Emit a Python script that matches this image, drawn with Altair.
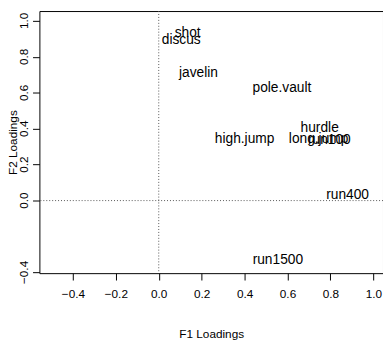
import altair as alt
import pandas as pd

labels = ["shot", "discus", "javelin", "pole.vault", "hurdle", "high.jump",
          "long.jump", "run100", "run400", "run1500"]
f1 = [0.135, 0.105, 0.185, 0.574, 0.75, 0.40, 0.745, 0.795, 0.88, 0.555]
f2 = [0.934, 0.894, 0.707, 0.625, 0.403, 0.343, 0.344, 0.337, 0.033, -0.332]
x_ticks = [-0.4, -0.2, 0.0, 0.2, 0.4, 0.6, 0.8, 1.0]
y_ticks = [-0.4, 0.0, 0.2, 0.4, 0.6, 0.8, 1.0]

df = pd.DataFrame({"label": labels, "f1": f1, "f2": f2})
ref = pd.DataFrame({"v": [0.0]})
ytick_df = pd.DataFrame({"v": y_ticks, "lab": [f"{v:.1f}".replace("-", "\u2212") for v in y_ticks]})

FONT = "Liberation Sans"
xs = alt.Scale(domain=[-0.556, 1.045], nice=False, zero=False)
ys = alt.Scale(domain=[-0.404, 1.055], nice=False, zero=False)

xaxis = alt.Axis(values=x_ticks, format=".1f", grid=False, domain=False,
                 tickSize=7, tickColor="black", labelColor="black",
                 labelFont=FONT, labelFontSize=12, labelPadding=9,
                 title="F1 Loadings", titleFont=FONT, titleFontSize=12,
                 titleFontWeight="normal", titleColor="black",
                 titleY=62, titleBaseline="middle")
yaxis = alt.Axis(values=y_ticks, grid=False, domain=False, labels=False,
                 tickSize=7, tickColor="black",
                 title="F2 Loadings", titleFont=FONT, titleFontSize=12,
                 titleFontWeight="normal", titleColor="black",
                 titleX=-27, titleAngle=270, titleBaseline="middle")

text = alt.Chart(df).mark_text(font=FONT, fontSize=14, color="black").encode(
    x=alt.X("f1:Q", scale=xs, axis=xaxis),
    y=alt.Y("f2:Q", scale=ys, axis=yaxis),
    text="label:N",
)
ylabels = alt.Chart(ytick_df).mark_text(
    font=FONT, fontSize=12, color="black", angle=270,
    align="center", baseline="middle").encode(
    x=alt.value(-16),
    y=alt.Y("v:Q", scale=ys),
    text="lab:N",
)
vline = alt.Chart(ref).mark_rule(color="#555555", strokeDash=[1, 2], strokeWidth=1).encode(
    x=alt.X("v:Q", scale=xs))
hline = alt.Chart(ref).mark_rule(color="#555555", strokeDash=[1, 2], strokeWidth=1).encode(
    y=alt.Y("v:Q", scale=ys))

chart = alt.layer(vline, hline, text, ylabels).properties(
    width=350, height=267,
    autosize=alt.AutoSizeParams(type="none"),
    padding={"left": 32, "top": 0, "right": 0, "bottom": 66},
).configure_view(stroke="black", strokeWidth=1, clip=False)

chart.save("out.html", embed_options={"renderer": "svg", "actions": False})
